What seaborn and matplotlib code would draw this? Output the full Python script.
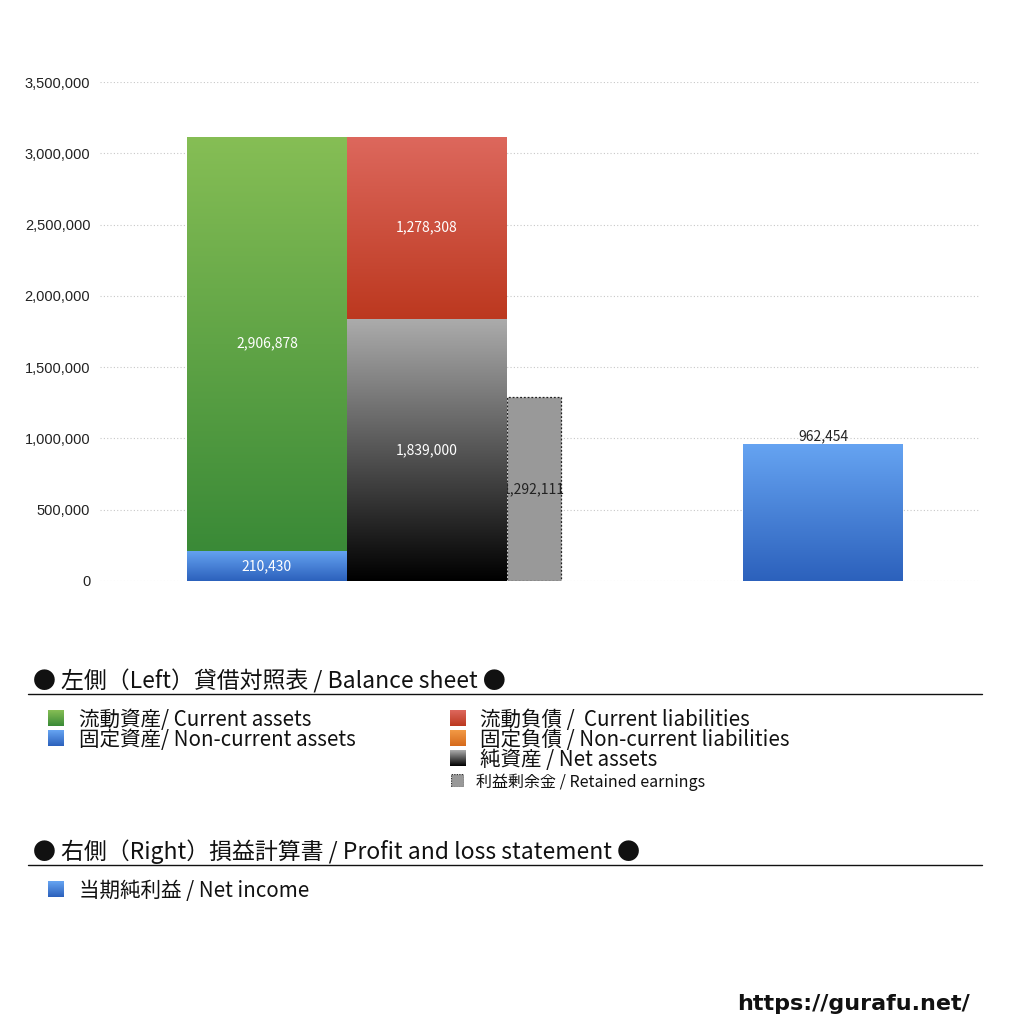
import numpy as np
import matplotlib
matplotlib.use("Agg")
import matplotlib.pyplot as plt
from matplotlib.colors import LinearSegmentedColormap
from matplotlib.patches import Rectangle
from matplotlib.lines import Line2D
import seaborn as sns

# values (yen, thousands)
current_assets = 2906878
noncurrent_assets = 210430
current_liabilities = 1278308
noncurrent_liabilities = 0
net_assets = 1839000
retained_earnings = 1292111
net_income = 962454

y_ticks = [0, 500000, 1000000, 1500000, 2000000, 2500000, 3000000, 3500000]

bs_header = "● 左側（Left）貸借対照表 / Balance sheet ●"
pl_header = "● 右側（Right）損益計算書 / Profit and loss statement ●"
assets_items = ["流動資産/ Current assets", "固定資産/ Non-current assets"]
liab_items = ["流動負債 /  Current liabilities", "固定負債 / Non-current liabilities", "純資産 / Net assets"]
retained_item = "利益剰余金 / Retained earnings"
pl_items = ["当期純利益 / Net income"]

GREEN = ("#86be55", "#3a8a37")
BLUE = ("#66a4f2", "#2c61bc")
RED = ("#dd685d", "#bc381f")
ORANGE = ("#f29a45", "#d66a1c")
BLACK = ("#acacac", "#000000")

sns.set_theme(style="white")
plt.rcParams["font.family"] = ["Noto Sans CJK JP", "DejaVu Sans"]
NUM_FONT = ["Liberation Sans", "DejaVu Sans"]

W = 1024
fig = plt.figure(figsize=(10.24, 10.24), dpi=100)
ax = fig.add_axes([100 / W, 1 - 581 / W, 880 / W, (581 - 82) / W])


def gradient_fill(ax, bar, colors, zorder):
    x0, y0 = bar.get_xy()
    w, h = bar.get_width(), bar.get_height()
    cmap = LinearSegmentedColormap.from_list("g", [colors[1], colors[0]])
    grad = np.linspace(0, 1, 256).reshape(-1, 1)
    im = ax.imshow(grad, cmap=cmap, extent=[x0, x0 + w, y0, y0 + h],
                   origin="lower", aspect="auto", zorder=zorder)
    im.set_clip_path(bar)
    bar.set_facecolor("none")


# bar layout (in bar-width units)
x_assets, x_liab, x_ret, x_income = 0.0, 1.0, 1.5 + 0.3375 / 2, 3.475
w_main, w_ret = 1.0, 0.3375

b = ax.bar(x_assets, noncurrent_assets, width=w_main, linewidth=0, zorder=2)[0]
gradient_fill(ax, b, BLUE, 2)
b = ax.bar(x_assets, current_assets, bottom=noncurrent_assets, width=w_main, linewidth=0, zorder=2)[0]
gradient_fill(ax, b, GREEN, 2)
b = ax.bar(x_liab, net_assets, width=w_main, linewidth=0, zorder=2)[0]
gradient_fill(ax, b, BLACK, 2)
b = ax.bar(x_liab, current_liabilities, bottom=net_assets + noncurrent_liabilities,
           width=w_main, linewidth=0, zorder=2)[0]
gradient_fill(ax, b, RED, 2)
ax.bar(x_ret, retained_earnings, width=w_ret, color="#999999", edgecolor="#222222",
       linestyle=(0, (1.5, 1.5)), linewidth=0.9, zorder=1.5)
b = ax.bar(x_income, net_income, width=w_main, linewidth=0, zorder=2)[0]
gradient_fill(ax, b, BLUE, 2)

lab = dict(ha="center", va="center", fontsize=10, color="white", zorder=4)
ax.text(x_assets, noncurrent_assets / 2, f"{noncurrent_assets:,}", **lab)
ax.text(x_assets, noncurrent_assets + current_assets / 2, f"{current_assets:,}", **lab)
ax.text(x_liab, net_assets / 2, f"{net_assets:,}", **lab)
ax.text(x_liab, net_assets + current_liabilities / 2, f"{current_liabilities:,}", **lab)
ax.text(x_ret, retained_earnings / 2, f"{retained_earnings:,}", ha="center", va="center",
        fontsize=10, color="#222222", zorder=1.8)
ax.annotate(f"{net_income:,}", (x_income, net_income), xytext=(0, 0), textcoords="offset points",
            ha="center", va="bottom", fontsize=10, color="#222222", zorder=4)

ax.set_xlim(-167 / 160, 713 / 160)
ax.set_ylim(0, 3500000)
ax.set_yticks(y_ticks)
ax.set_yticklabels([f"{v:,}" for v in y_ticks], fontsize=10.5, color="#222222", family=NUM_FONT)
ax.set_xticks([])
ax.tick_params(axis="y", length=0, pad=7)
for v in y_ticks:
    ax.axhline(v, color="#c8c8c8", linestyle=(0, (1, 2)), linewidth=0.8, zorder=0)
for s in ax.spines.values():
    s.set_visible(False)
ax.set_facecolor("white")


def fx(px):
    return px / W


def fy(py):
    return 1 - py / W


def square(x, y, size, colors=None, dashed=False):
    a = fig.add_axes([fx(x), fy(y + size), fx(size), size / W])
    a.set_axis_off()
    if dashed:
        a.add_patch(Rectangle((0, 0), 1, 1, facecolor="#999999", edgecolor="#333333",
                              linestyle=(0, (1, 1)), linewidth=0.9, transform=a.transAxes))
    else:
        cmap = LinearSegmentedColormap.from_list("s", [colors[1], colors[0]])
        a.imshow(np.linspace(0, 1, 64).reshape(-1, 1), cmap=cmap, origin="lower",
                 aspect="auto", extent=[0, 1, 0, 1])
    a.set_xlim(0, 1)
    a.set_ylim(0, 1)


# balance sheet legend
fig.text(fx(33), fy(681), bs_header, fontsize=16.5, va="center", ha="left", color="#111111")
fig.add_artist(Line2D([fx(28), fx(982)], [fy(694), fy(694)], color="#111111", linewidth=1))
for i, (txt, col) in enumerate(zip(assets_items, [GREEN, BLUE])):
    yc = 718 + 20 * i
    square(48, yc - 8, 16, col)
    fig.text(fx(79), fy(yc + 2), txt, fontsize=14.8, va="center", ha="left", color="#111111")
for i, (txt, col) in enumerate(zip(liab_items, [RED, ORANGE, BLACK])):
    yc = 718 + 20 * i
    square(450, yc - 8, 16, col)
    fig.text(fx(480), fy(yc + 2), txt, fontsize=14.8, va="center", ha="left", color="#111111")
square(451, 774, 13, dashed=True)
fig.text(fx(476), fy(782), retained_item, fontsize=11.5, va="center", ha="left", color="#111111")

# profit and loss legend
fig.text(fx(33), fy(852), pl_header, fontsize=16.5, va="center", ha="left", color="#111111")
fig.add_artist(Line2D([fx(28), fx(982)], [fy(865), fy(865)], color="#111111", linewidth=1))
for i, txt in enumerate(pl_items):
    yc = 889 + 20 * i
    square(48, yc - 8, 16, BLUE)
    fig.text(fx(79), fy(yc + 2), txt, fontsize=14.8, va="center", ha="left", color="#111111")

fig.text(fx(970), fy(1004), "https://gurafu.net/", fontsize=16, fontweight="bold",
         va="center", ha="right", color="#111111", family=["DejaVu Sans"])

fig.savefig("out.png", dpi=100, facecolor="white")
